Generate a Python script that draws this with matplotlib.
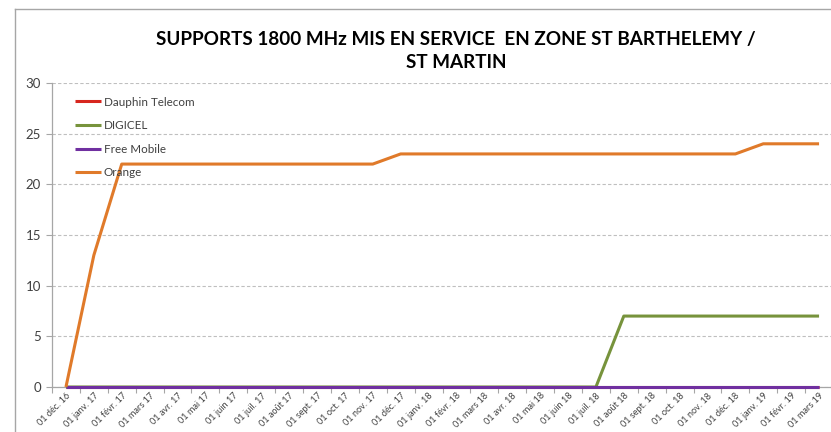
import matplotlib.pyplot as plt
from matplotlib.lines import Line2D

months = ["01 déc. 16", "01 janv. 17", "01 févr. 17", "01 mars 17", "01 avr. 17",
          "01 mai 17", "01 juin 17", "01 juil. 17", "01 août 17", "01 sept. 17",
          "01 oct. 17", "01 nov. 17", "01 déc. 17", "01 janv. 18", "01 févr. 18",
          "01 mars 18", "01 avr. 18", "01 mai 18", "01 juin 18", "01 juil. 18",
          "01 août 18", "01 sept. 18", "01 oct. 18", "01 nov. 18", "01 déc. 18",
          "01 janv. 19", "01 févr. 19", "01 mars 19"]

dauphin = [0] * 28
digicel = [0] * 20 + [7] * 8
free_mobile = [0] * 28
orange = [0, 13] + [22] * 10 + [23] * 13 + [24] * 3

series = [
    ("Dauphin Telecom", dauphin, "#D7261E"),
    ("DIGICEL", digicel, "#77933C"),
    ("Free Mobile", free_mobile, "#7030A0"),
    ("Orange", orange, "#E07A2A"),
]

plt.rcParams["font.family"] = ["Lato", "DejaVu Sans"]

W, H = 831, 432
fig = plt.figure(figsize=(W / 100, H / 100), dpi=100)
ax = fig.add_axes([52 / W, (H - 387) / H, (833 - 52) / W, (387 - 83) / H])

x = list(range(len(months)))
for name, vals, col in series:
    ax.plot(x, vals, color=col, lw=2.2, label=name, solid_capstyle="butt",
            clip_on=False, zorder=3)

ax.set_xlim(-0.5, len(months) - 0.5)
ax.set_ylim(0, 30)
ax.set_yticks(range(0, 31, 5))
# category axis: ticks between categories, labels at centres
ax.set_xticks([i - 0.5 for i in range(len(months) + 1)])
ax.set_xticklabels([])
ax.set_xticks(x, minor=True)
ax.set_xticklabels(months, minor=True, rotation=45, ha="right",
                   rotation_mode="anchor", fontsize=6.6, color="#404040")
ax.tick_params(axis="x", which="minor", length=0, pad=3)
ax.tick_params(axis="x", which="major", length=4, color="#A6A6A6")
ax.tick_params(axis="y", length=4, color="#A6A6A6", labelsize=9.5,
               labelcolor="#404040", pad=4)

ax.grid(axis="y", color="#BFBFBF", lw=0.8, ls=(0, (3, 2)))
for s in ("top", "right"):
    ax.spines[s].set_visible(False)
for s in ("left", "bottom"):
    ax.spines[s].set_color("#A6A6A6")
    ax.spines[s].set_linewidth(0.9)

leg = ax.legend(loc="upper left", bbox_to_anchor=(0.016, 0.99), frameon=False,
                fontsize=8.4, handlelength=2.25, handletextpad=0.2,
                labelspacing=1.08)
for t in leg.get_texts():
    t.set_color("#404040")

cx = 456 / W
fig.text(cx, 1 - 40 / H, "SUPPORTS 1800 MHz MIS EN SERVICE  EN ZONE ST BARTHELEMY /",
         ha="center", va="center", fontsize=13.6, fontweight="bold", color="black")
fig.text(cx, 1 - 63 / H, "ST MARTIN", ha="center", va="center",
         fontsize=13.6, fontweight="bold", color="black")

# chart-area border (only top and left visible)
fig.add_artist(Line2D([14.5 / W, 14.5 / W], [0, 1 - 9 / H], color="#A6A6A6", lw=1,
                      transform=fig.transFigure))
fig.add_artist(Line2D([14.5 / W, 1], [1 - 9 / H, 1 - 9 / H], color="#A6A6A6", lw=1,
                      transform=fig.transFigure))

fig.savefig("out.png", dpi=100)
